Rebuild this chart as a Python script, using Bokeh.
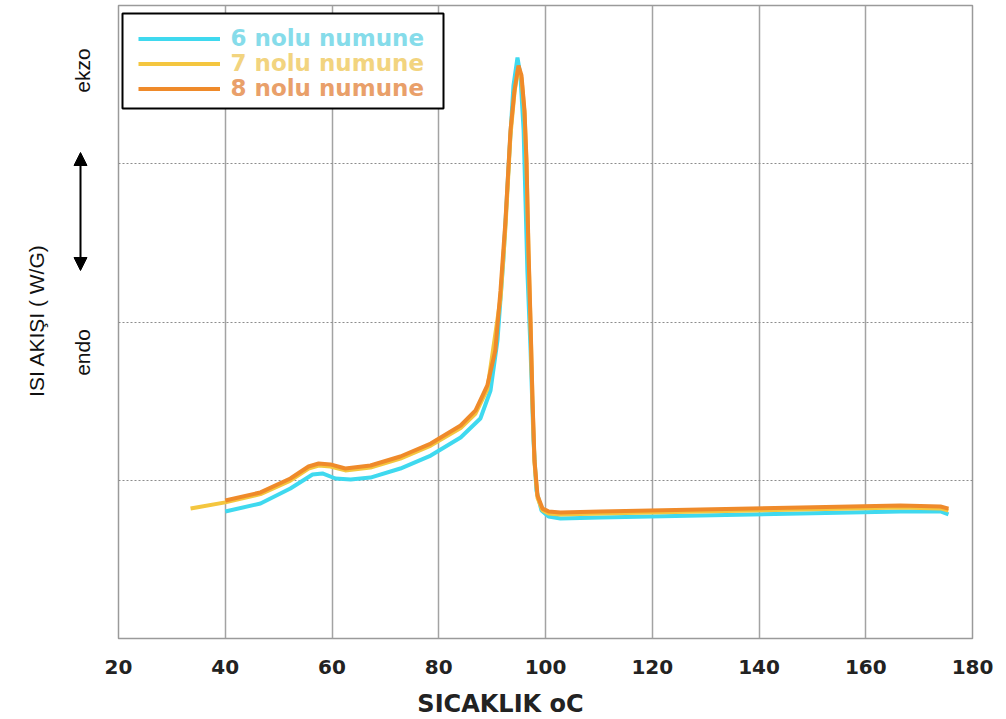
from math import pi
from bokeh.plotting import figure
from bokeh.layouts import row, column
from bokeh.models import (Range1d, FixedTicker, Label, Arrow, NormalHead,
                          Legend, LegendItem, BoxAnnotation)
from bokeh.core.properties import value
from bokeh.embed import file_html
from bokeh.resources import INLINE

# ---------------- data ----------------
x_ticks = [20, 40, 60, 80, 100, 120, 140, 160, 180]

s6_x = [40.0, 46.6, 52.2, 56.35, 58.2, 60.65, 63.5, 67.2, 72.8, 78.5, 84.1, 87.8,
        89.7, 91.0, 92.1, 93.25, 94.0, 94.75, 95.3, 95.9, 96.25, 96.6, 97.2,
        97.75, 98.3, 99.25, 100.56, 102.8, 110.3, 129.0, 147.8, 166.5, 174.0, 175.5]
s6_y = [0.803, 0.853, 0.948, 1.036, 1.043, 1.011, 1.005, 1.017, 1.074, 1.156,
        1.270, 1.390, 1.567, 1.883, 2.389, 3.084, 3.495, 3.671, 3.558, 3.210,
        2.768, 2.325, 1.820, 1.251, 0.935, 0.809, 0.771, 0.758, 0.765, 0.777,
        0.790, 0.803, 0.803, 0.784]

s7_x = [33.5, 40.0, 46.6, 52.2, 55.6, 57.5, 59.7, 62.5, 67.2, 72.8, 78.5, 84.1,
        86.9, 89.1, 91.57, 92.5, 93.44, 94.19, 94.85, 95.5, 96.07, 96.44, 96.82,
        97.19, 97.57, 97.94, 98.5, 99.44, 100.56, 102.8, 110.3, 129.0, 147.8,
        166.5, 174.0, 175.5]
s7_y = [0.821, 0.860, 0.912, 0.998, 1.074, 1.093, 1.087, 1.062, 1.080, 1.137,
        1.219, 1.330, 1.422, 1.575, 2.150, 2.600, 3.180, 3.450, 3.600, 3.540,
        3.320, 3.000, 2.430, 1.990, 1.490, 1.110, 0.890, 0.810, 0.790, 0.783,
        0.790, 0.802, 0.815, 0.828, 0.822, 0.808]

s8_x = [40.0, 46.6, 52.2, 55.6, 57.5, 59.7, 62.5, 67.2, 72.8, 78.5, 84.1, 86.9,
        89.1, 90.6, 91.57, 92.5, 93.44, 94.19, 94.94, 95.5, 96.07, 96.44, 96.82,
        97.19, 97.57, 97.94, 98.5, 99.44, 100.56, 102.8, 110.3, 129.0, 147.8,
        166.5, 174.0, 175.5]
s8_y = [0.872, 0.923, 1.011, 1.087, 1.106, 1.100, 1.074, 1.093, 1.150, 1.232,
        1.346, 1.441, 1.599, 1.820, 2.199, 2.641, 3.210, 3.463, 3.621, 3.558,
        3.336, 3.021, 2.452, 2.009, 1.504, 1.125, 0.904, 0.821, 0.803, 0.796,
        0.803, 0.815, 0.828, 0.840, 0.834, 0.821]

series_names = ["6 nolu numune", "7 nolu numune", "8 nolu numune"]
line_colors = ["#3fd9ef", "#f4c63f", "#ef8a2a"]
text_colors = ["#86dcea", "#f2d47f", "#e9a06a"]

y_title = "ISI AKIŞI ( W/G)"
x_title = "SICAKLIK oC"

# ---------------- layout constants ----------------
W, H = 1006, 719
LW = 100                 # width of the left strip
BH = 36                  # height of the bottom strip (x title)
TH = H - BH              # height of the top row
ML, MR, MT, MB = 118, 34, 5, 81   # frame margins in the whole picture
fw, fh = W - ML - MR, H - MT - MB
side_font = "Liberation Sans"

# ---------------- left strip (y title, ekzo/endo, arrow) ----------------
left = figure(width=LW, height=TH, x_range=Range1d(0, LW), y_range=Range1d(0, fh),
              output_backend="svg", toolbar_location=None,
              min_border_left=0, min_border_right=0,
              min_border_top=MT, min_border_bottom=MB - BH)
left.axis.visible = False
left.grid.visible = False
left.outline_line_color = None
left.background_fill_color = "white"
left.border_fill_color = "white"

def ly(py):
    return fh + MT - py

left.text(x=[36, 82, 82], y=[ly(320), ly(70), ly(352)],
          text=[y_title, "ekzo", "endo"], angle=pi / 2,
          text_font=value(side_font), text_font_size="21px", text_color="#111111",
          text_align="center", text_baseline="middle")
left.add_layout(Arrow(x_start=80, y_start=ly(270), x_end=80, y_end=ly(152),
                      line_color="black", line_width=2,
                      start=NormalHead(size=13, fill_color="black", line_color="black"),
                      end=NormalHead(size=13, fill_color="black", line_color="black")))

# ---------------- main chart ----------------
p = figure(width=W - LW, height=TH, x_range=Range1d(20, 180), y_range=Range1d(0, 4),
           output_backend="svg", toolbar_location=None,
           min_border_left=ML - LW, min_border_right=MR,
           min_border_top=MT, min_border_bottom=MB - BH)
p.background_fill_color = "white"
p.border_fill_color = "white"
p.outline_line_color = "#9a9a9a"
p.outline_line_width = 1.5

def px2x(px):
    return 20 + (px - ML) / fw * 160
def py2y(py):
    return (MT + fh - py) / fh * 4

p.yaxis.visible = False
ax = p.xaxis[0]
ax.ticker = FixedTicker(ticks=x_ticks)
ax.axis_line_color = None
ax.major_tick_line_color = None
ax.minor_tick_line_color = None
ax.major_label_text_font = "DejaVu Sans"
ax.major_label_text_font_style = "bold"
ax.major_label_text_font_size = "20px"
ax.major_label_text_color = "#222222"
ax.major_label_standoff = 15

p.xgrid.ticker = FixedTicker(ticks=x_ticks)
p.xgrid.grid_line_color = "#a3a3a3"
p.xgrid.grid_line_width = 1.5
p.ygrid.ticker = FixedTicker(ticks=[1, 2, 3])
p.ygrid.grid_line_color = "#8c8c8c"
p.ygrid.grid_line_dash = "2 2"
p.ygrid.grid_line_width = 1

r6 = p.line(s6_x, s6_y, line_color=line_colors[0], line_width=4)
r7 = p.line(s7_x, s7_y, line_color=line_colors[1], line_width=4)
r8 = p.line(s8_x, s8_y, line_color=line_colors[2], line_width=4)

# legend frame (white box, black border)
p.add_layout(BoxAnnotation(left=px2x(122), right=px2x(443), top=py2y(13), bottom=py2y(108),
                           fill_color="white", fill_alpha=1,
                           line_color="black", line_width=2, line_alpha=1))
# legend texts in series colours
for i, (n, c) in enumerate(zip(series_names, text_colors)):
    p.add_layout(Label(x=px2x(230), y=py2y(37 + 25 * i), text=n,
                       text_color=c, text_font="DejaVu Sans",
                       text_font_style="bold", text_font_size="23px",
                       text_align="left", text_baseline="middle"))
# legend sample lines (transparent legend)
legend = Legend(items=[LegendItem(label=n, renderers=[r]) for n, r in
                       zip(series_names, [r6, r7, r8])],
                location=(138 - ML, MT + fh - 101), orientation="vertical",
                glyph_width=82, glyph_height=25, label_height=25, spacing=0,
                padding=0, margin=0, label_standoff=10, label_width=10,
                label_text_alpha=0, label_text_font_size="12px",
                border_line_color=None, background_fill_alpha=0)
p.add_layout(legend)

# ---------------- bottom strip (x title) ----------------
bottom = figure(width=W, height=BH, x_range=Range1d(0, W), y_range=Range1d(0, BH),
                output_backend="svg", toolbar_location=None,
                min_border_left=0, min_border_right=0,
                min_border_top=0, min_border_bottom=0)
bottom.axis.visible = False
bottom.grid.visible = False
bottom.outline_line_color = None
bottom.background_fill_color = "white"
bottom.border_fill_color = "white"
bottom.text(x=[500], y=[BH - 20], text=[x_title],
            text_font=value("DejaVu Sans"), text_font_style="bold",
            text_font_size="24px", text_color="#222222",
            text_align="center", text_baseline="middle")

layout = column(row(left, p, spacing=0), bottom, spacing=0)
open("out.html", "w").write(file_html(layout, INLINE))
